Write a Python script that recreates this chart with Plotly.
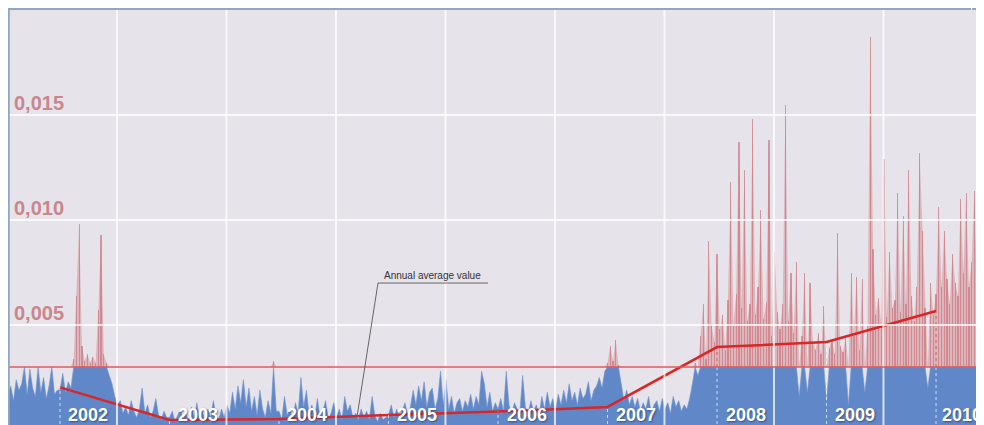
import numpy as np
import plotly.graph_objects as go

# ---------------- data (values in units of 0.001), one sample every 0.025 year ----------------
STEP = 0.025
v2001 = [1.6, 2.1, 1.4, 2.4, 1.9, 2.2, 3.0, 1.7, 2.9, 2.0, 1.6, 3.0, 1.8, 2.5, 1.5, 2.1, 3.0, 1.7, 1.9]
v2002 = [1.9, 2.7, 1.8, 2.3, 2.0, 3.4, 6.4, 9.8, 4.0, 3.3, 3.6, 3.2, 3.5, 3.2, 5.7, 9.3, 3.6, 3.2, 2.6, 2.2,
         1.6, 1.2, 1.4, 0.8, 1.1, 0.7, 1.4, 0.9, 0.6, 1.0, 2.0, 0.8, 1.2, 0.6, 0.9, 1.5, 0.7, 0.5, 0.9, 0.6]
v2003 = [0.6, 0.9, 0.4, 0.7, 1.0, 0.5, 0.8, 0.4, 1.1, 0.6, 1.3, 0.5, 0.9, 0.4, 1.0, 0.6, 1.4, 0.7, 0.5, 1.0,
         0.6, 1.2, 0.8, 1.8, 1.0, 2.1, 1.3, 2.4, 1.1, 2.0, 0.9, 1.6, 0.7, 1.9, 1.0, 0.6, 1.4, 0.8, 3.3, 0.9]
v2004 = [0.9, 0.5, 1.6, 0.7, 1.0, 0.5, 1.3, 0.8, 2.5, 1.1, 1.9, 0.7, 1.2, 0.5, 1.5, 0.6, 0.9, 1.4, 0.5, 0.8,
         1.3, 0.6, 1.0, 0.5, 1.6, 0.9, 1.2, 0.6, 0.8, 0.5, 1.0, 0.6, 0.9, 0.5, 1.6, 0.7, 0.4, 0.8, 0.5, 0.6]
v2005 = [0.7, 1.2, 0.6, 1.0, 0.5, 0.9, 1.3, 0.7, 1.1, 1.9, 1.2, 2.1, 1.4, 2.3, 1.1, 1.8, 2.0, 1.0, 1.5, 2.8,
         1.2, 2.4, 1.0, 1.6, 0.8, 1.3, 1.5, 0.9, 1.4, 1.1, 1.7, 1.0, 1.6, 1.2, 2.8, 2.2, 1.1, 1.8, 0.9, 1.3]
v2006 = [1.0, 1.5, 0.9, 2.8, 1.2, 0.8, 1.3, 1.0, 0.9, 2.6, 1.1, 0.8, 1.4, 0.9, 1.2, 0.7, 1.6, 1.0, 1.8, 1.1,
         1.5, 0.9, 1.7, 1.2, 1.9, 1.3, 2.2, 1.4, 1.8, 1.2, 2.0, 1.5, 1.7, 2.3, 1.4, 1.9, 2.1, 2.5, 2.0, 2.8]
v2007 = [3.2, 4.0, 3.3, 4.3, 3.1, 2.2, 1.4, 1.9, 1.2, 1.6, 1.1, 1.5, 0.9, 1.3, 1.0, 1.6, 0.8, 1.2, 1.4, 0.9,
         1.5, 1.0, 1.3, 0.8, 1.6, 1.1, 1.4, 0.9, 1.2, 1.0, 1.5, 2.2, 3.2, 2.6, 4.5, 6.0, 3.4, 9.0, 5.0, 4.2]
v2008 = [8.4, 4.8, 5.5, 3.8, 6.2, 11.8, 5.0, 6.5, 13.7, 5.8, 12.4, 5.2, 6.0, 14.8, 5.5, 6.8, 10.5, 5.3, 6.1, 13.8,
         4.5, 8.5, 5.6, 4.8, 6.0, 15.5, 5.2, 7.5, 4.6, 8.0, 1.6, 4.5, 7.5, 1.8, 7.0, 4.2, 3.8, 4.6, 3.6, 5.9]
v2009 = [1.4, 3.9, 4.3, 3.6, 9.4, 4.0, 3.7, 4.4, 1.2, 7.5, 4.5, 7.3, 3.8, 7.2, 1.8, 5.0, 18.7, 8.6, 5.5, 6.3,
         5.0, 12.9, 5.4, 8.5, 5.8, 6.2, 11.3, 5.6, 10.2, 6.0, 12.4, 6.4, 5.2, 6.8, 13.2, 9.5, 5.8, 2.0, 7.0, 5.5]
v2010 = [6.5, 10.6, 6.8, 9.5, 7.2, 6.0, 8.4, 7.0, 6.4, 11.0, 7.5, 11.3, 6.8, 8.0, 11.4, 6.5, 9.0, 7.2, 6.0]

segments = [v2001, v2002, v2003, v2004, v2005, v2006, v2007, v2008, v2009, v2010]
segment_starts = [2001.525, 2002, 2003, 2004, 2005, 2006, 2007, 2008, 2009, 2010]

years = [2002, 2003, 2004, 2005, 2006, 2007, 2008, 2009, 2010]
year_labels = ["2002", "2003", "2004", "2005", "2006", "2007", "2008", "2009", "2010"]
annual_avg = [2.03, 0.48, 0.52, 0.72, 0.88, 1.10, 3.95, 4.19, 5.67]

limit_value = 3.0
ytick_vals = [5, 10, 15]
ytick_text = ["0,005", "0,010", "0,015"]
xgrid_vals = [2002.52, 2003.52, 2004.52, 2005.52, 2006.52, 2007.52, 2008.52, 2009.52]

UNIT = 1e-3

# ---------------- derived ----------------
t = np.concatenate([s + STEP * np.arange(len(v)) for s, v in zip(segment_starts, segments)])
vals = np.concatenate([np.array(v, dtype=float) for v in segments]) * UNIT
thr = limit_value * UNIT
blue = np.minimum(vals, thr)
red = np.maximum(vals, thr)

X_RANGE = [2001.525, 2010.438]
Y_RANGE = [0.00024, 0.0200]

fig = go.Figure()
# below-limit part
fig.add_trace(go.Scatter(x=t, y=blue, mode="lines", line=dict(color="#7195cf", width=0.6),
                         fill="tozeroy", fillcolor="#6088C9", hoverinfo="skip", showlegend=False))
# above-limit part: soft envelope + needles
fig.add_trace(go.Scatter(x=t, y=np.full_like(t, thr), mode="lines", line=dict(width=0, color="rgba(0,0,0,0)"),
                         hoverinfo="skip", showlegend=False))
fig.add_trace(go.Scatter(x=t, y=red, mode="lines", line=dict(width=0, color="rgba(0,0,0,0)"),
                         fill="tonexty", fillcolor="rgba(205,110,115,0.38)", hoverinfo="skip", showlegend=False))
fig.add_trace(go.Bar(x=t, y=red - thr, base=thr, width=STEP * 0.45,
                     marker=dict(color="rgba(195,95,100,0.55)", line=dict(width=0)),
                     hoverinfo="skip", showlegend=False))
# annual averages
fig.add_trace(go.Scatter(x=years, y=np.array(annual_avg) * UNIT, mode="lines",
                         line=dict(color="#D92626", width=2.5), showlegend=False))

shapes = []
# grid (drawn above the data, like the reference)
for gx in xgrid_vals:
    shapes.append(dict(type="line", xref="x", yref="paper", x0=gx, x1=gx, y0=0, y1=1,
                       line=dict(color="rgba(255,255,255,0.75)", width=2), layer="above"))
for gy in ytick_vals:
    shapes.append(dict(type="line", xref="paper", yref="y", x0=0, x1=1, y0=gy * UNIT, y1=gy * UNIT,
                       line=dict(color="rgba(255,255,255,0.75)", width=2), layer="above"))
# dotted year markers under the average points
for yr, av in zip(years, annual_avg):
    shapes.append(dict(type="line", xref="x", yref="y", x0=yr, x1=yr, y0=0, y1=av * UNIT,
                       line=dict(color="rgba(255,255,255,0.7)", width=1, dash="dot"), layer="above"))
# limit line
shapes.append(dict(type="line", xref="paper", yref="y", x0=0, x1=1, y0=thr, y1=thr,
                   line=dict(color="#E05A5A", width=1.5), layer="above"))
# annotation callout lines
shapes.append(dict(type="line", xref="x", yref="y", x0=2004.904, x1=2005.909, y0=0.0070, y1=0.0070,
                   line=dict(color="#666666", width=1), layer="above"))
shapes.append(dict(type="line", xref="x", yref="y", x0=2004.904, x1=2004.712, y0=0.0070, y1=0.00062,
                   line=dict(color="#666666", width=1), layer="above"))
# frame (top and left borders, corner block)
FRAME = "#8FA7BF"
shapes.append(dict(type="line", xref="paper", yref="paper", x0=0, x1=0.9867, y0=1.0024, y1=1.0024,
                   line=dict(color=FRAME, width=2), layer="above"))
shapes.append(dict(type="line", xref="paper", yref="paper", x0=0.0008, x1=0.0008, y0=-0.01, y1=1.005,
                   line=dict(color=FRAME, width=2), layer="above"))
shapes.append(dict(type="rect", xref="paper", yref="paper", x0=0.9877, x1=1.0, y0=1.0, y1=1.02,
                   line=dict(width=0), fillcolor=FRAME, layer="above"))

annotations = []
for gy, txt in zip(ytick_vals, ytick_text):
    annotations.append(dict(x=0, xref="paper", xanchor="left", xshift=4, y=gy * UNIT, yref="y",
                            yanchor="bottom", yshift=-1, text=txt, showarrow=False,
                            font=dict(family="Liberation Sans, Arial, sans-serif", size=20,
                                      color="#C8878C", weight="bold")))
for yr, lab in zip(years, year_labels):
    annotations.append(dict(x=yr + 0.26, xref="x", xanchor="center", y=0, yref="paper", yanchor="bottom",
                            yshift=-2, xshift=(-3 if yr == years[-1] else 0), text=lab, showarrow=False,
                            font=dict(family="Liberation Sans, Arial, sans-serif", size=18, color="white",
                                      weight="bold", shadow="1px 1px 2px rgba(40,40,60,0.6)")))
annotations.append(dict(x=2004.94, xref="x", xanchor="left", y=0.0070, yref="y", yanchor="bottom",
                        yshift=0, text="Annual average value", showarrow=False,
                        font=dict(family="Liberation Sans, Arial, sans-serif", size=10, color="#333333")))

# the page body keeps its default 8px margin, so the figure is 976x417 and starts at (8, 8)
fig.update_layout(
    width=976, height=417,
    margin=dict(l=0, r=0, t=2, b=0),
    paper_bgcolor="white", plot_bgcolor="#E7E3EA",
    bargap=0,
    xaxis=dict(range=X_RANGE, showgrid=False, zeroline=False, showticklabels=False, ticks="", showline=False),
    yaxis=dict(range=Y_RANGE, showgrid=False, zeroline=False, showticklabels=False, ticks="", showline=False),
    shapes=shapes, annotations=annotations, showlegend=False,
)

fig.write_html("out.html")
